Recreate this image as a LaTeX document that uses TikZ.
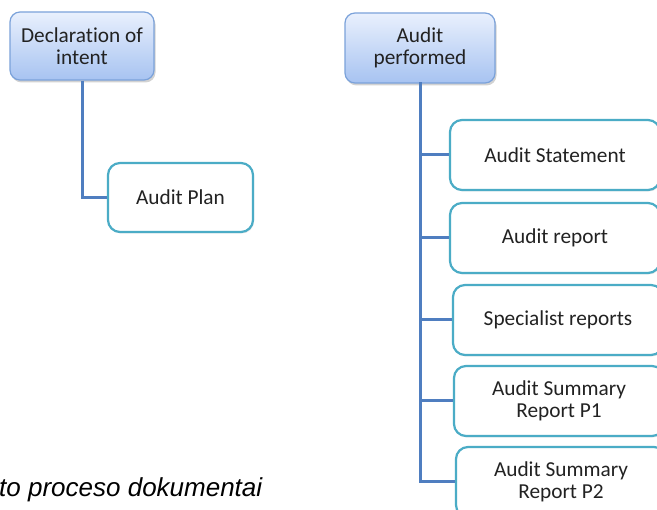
\documentclass[tikz,border=0pt]{standalone}
\usepackage{fontspec}
\setmainfont{Carlito}[Ligatures=NoCommon]
\newfontfamily\capfont{Liberation Sans}
\usetikzlibrary{shadows}
\definecolor{topfillA}{HTML}{E9F0FD}
\definecolor{topfillB}{HTML}{A7C3F1}
\definecolor{topborder}{HTML}{7BA2DA}
\definecolor{tealborder}{HTML}{4BACC6}
\definecolor{connector}{HTML}{4F7EC0}
\definecolor{txt}{HTML}{222222}
\tikzset{
  x=1pt, y=-1pt,
  topbox/.style={draw=topborder, line width=1.2pt, rounded corners=10pt,
    top color=topfillA, bottom color=topfillB, align=center, text=txt,
    font=\fontsize{21.3}{22}\selectfont, inner sep=0pt,
    drop shadow={opacity=0.35, shadow xshift=1.5pt, shadow yshift=-2.5pt}},
  tealbox/.style={draw=tealborder, line width=2.2pt, rounded corners=12pt,
    fill=white, align=center, text=txt, font=\fontsize{21.3}{22}\selectfont,
    inner sep=0pt, minimum height=69pt,
    drop shadow={opacity=0.18, shadow xshift=1pt, shadow yshift=-1.5pt}},
  conn/.style={draw=connector, line width=3pt}
}
\begin{document}
\begin{tikzpicture}
\useasboundingbox (0,0) rectangle (657,510);
\clip (0,0) rectangle (657,510);
\fill[white] (0,0) rectangle (657,510);

\node[topbox, minimum width=144pt, minimum height=68pt] (decl) at (82,46) {Declaration of\\intent};
\node[topbox, minimum width=150pt, minimum height=70pt] (perf) at (420,48) {Audit\\performed};

\node[tealbox, minimum width=145pt] (plan) at (180.5,197.5) {Audit Plan};

\node[tealbox, minimum width=210pt, minimum height=70pt] (stmt) at (555,155) {Audit Statement};
\node[tealbox, minimum width=210pt, minimum height=70pt] (rep) at (555,238) {Audit report};
\node[tealbox, minimum width=210pt, minimum height=70pt] (spec) at (558,320) {Specialist reports};
\node[tealbox, minimum width=210pt, minimum height=70pt] (p1) at (559,401) {Audit Summary\\Report P1};
\node[tealbox, minimum width=210pt, minimum height=70pt] (p2) at (561,482) {Audit Summary\\Report P2};

\draw[conn] (decl.south) |- (plan.west);
\coordinate (trunk) at (perf.south);
\draw[conn, line cap=rect] (trunk) -- (trunk |- p2.west);
\foreach \n in {stmt,rep,spec,p1,p2}{
  \draw[conn] (trunk |- \n.west) -- (\n.west);
}

\node[anchor=base west, inner sep=0pt, font=\capfont\itshape\fontsize{26}{30}\selectfont, text=black] (cap) at (-1,497) {to proceso dokumentai};
\end{tikzpicture}
\end{document}
